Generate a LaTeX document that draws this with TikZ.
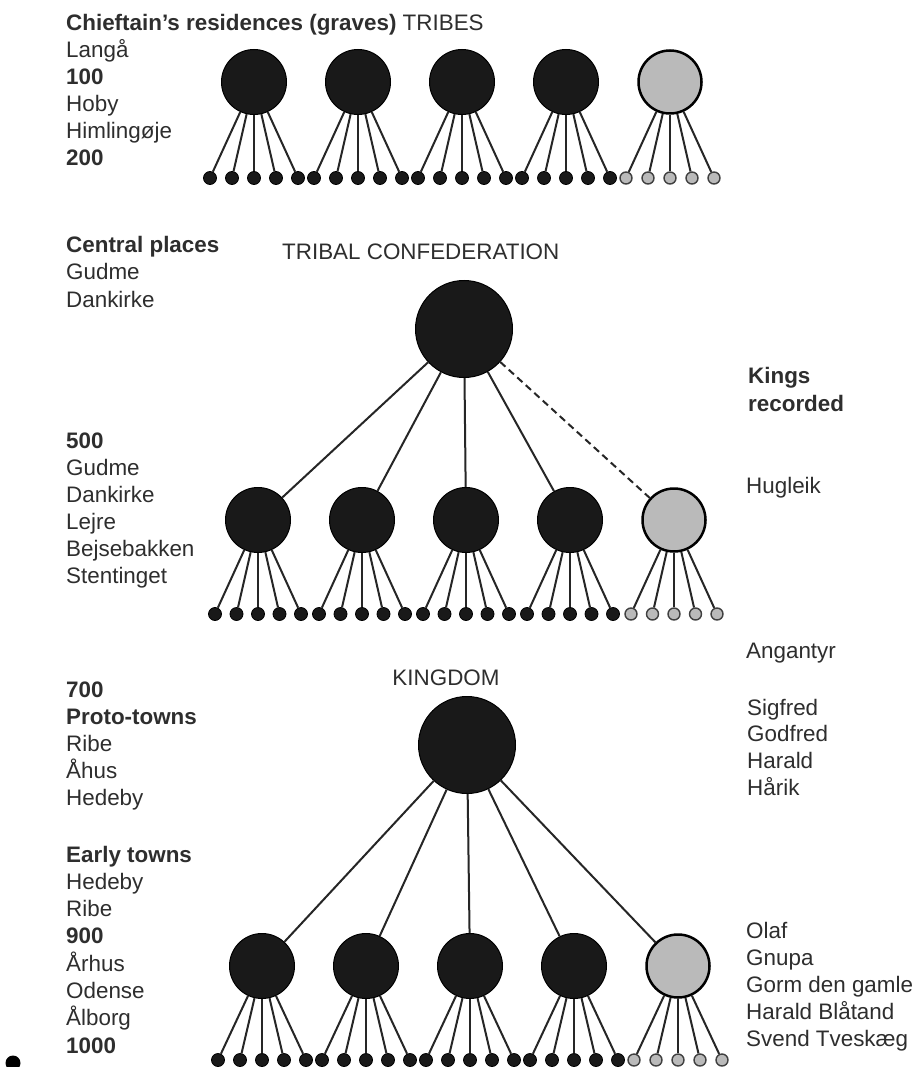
\documentclass[tikz,border=0pt]{standalone}
\usepackage{fontspec}
\setmainfont{Liberation Sans}
\begin{document}
\begin{tikzpicture}[x=1pt,y=-1pt,
  big/.style={circle,draw=black,line width=1pt,fill=black!90,minimum size=97pt,inner sep=0pt},
  mid/.style={circle,draw=black,line width=1pt,fill=black!90,minimum size=65pt,inner sep=0pt},
  midg/.style={circle,draw=black,line width=2.5pt,fill=black!27,minimum size=63pt,inner sep=0pt},
  dotb/.style={circle,draw=black,line width=0.8pt,fill=black!90,minimum size=13pt,inner sep=0pt},
  dotg/.style={circle,draw=black!75,line width=1.4pt,fill=black!27,minimum size=12pt,inner sep=0pt},
  link/.style={line width=2pt,draw=black!85},
  dlink/.style={line width=2pt,draw=black!85,dash pattern=on 7pt off 4.5pt},
  lbl/.style={anchor=base west,inner sep=0pt,text=black!82,font=\fontsize{22.4}{27}\selectfont},
  ttl/.style={anchor=base,inner sep=0pt,text=black!82,font=\fontsize{22.4}{27}\selectfont},
]
\fill[white] (0,0) rectangle (917,1067);
\useasboundingbox (0,0) rectangle (917,1067);

% ---------- TRIBES (top row) ----------
\foreach \i in {1,...,5}{
  \pgfmathsetmacro\cx{254+104*(\i-1)}
  \ifnum\i<5 \node[mid] (t\i) at (\cx,82) {}; \else \node[midg] (t\i) at (\cx,82) {}; \fi
  \foreach \j/\o in {1/-44,2/-22,3/0,4/22,5/44}{
    \ifnum\i<5 \node[dotb] (t\i d\j) at (\cx+\o,178) {}; \else \node[dotg] (t\i d\j) at (\cx+\o,178) {}; \fi
    \draw[link] (t\i) -- (t\i d\j);
  }
}

% ---------- TRIBAL CONFEDERATION ----------
\node[big] (c0) at (464,329) {};
\foreach \i in {1,...,5}{
  \pgfmathsetmacro\cx{258+104*(\i-1)}
  \ifnum\i<5 \node[mid] (c\i) at (\cx,520) {}; \draw[link] (c0) -- (c\i);
  \else \node[midg] (c\i) at (\cx,520) {}; \draw[dlink] (c0) -- (c\i); \fi
  \foreach \j/\o in {1/-43,2/-21.5,3/0,4/21.5,5/43}{
    \ifnum\i<5 \node[dotb] (c\i d\j) at (\cx+\o,614) {}; \else \node[dotg] (c\i d\j) at (\cx+\o,614) {}; \fi
    \draw[link] (c\i) -- (c\i d\j);
  }
}

% ---------- KINGDOM ----------
\node[big] (k0) at (467,745) {};
\foreach \i in {1,...,5}{
  \pgfmathsetmacro\cx{262+104*(\i-1)}
  \ifnum\i<5 \node[mid] (k\i) at (\cx,966) {}; \else \node[midg] (k\i) at (\cx,966) {}; \fi
  \draw[link] (k0) -- (k\i);
  \foreach \j/\o in {1/-44,2/-22,3/0,4/22,5/44}{
    \ifnum\i<5 \node[dotb] (k\i d\j) at (\cx+\o,1060) {}; \else \node[dotg] (k\i d\j) at (\cx+\o,1060) {}; \fi
    \draw[link] (k\i) -- (k\i d\j);
  }
}

% stray dot at bottom left
\node[circle,fill=black,minimum size=15pt,inner sep=0pt] (spot) at (13,1063) {};

% ---------- centred titles ----------
\node[lbl] (tconf) at (282,259) {TRIBAL CONFEDERATION};
\node[ttl] (tking) at (446,685) {KINGDOM};

% ---------- left column ----------
\node[lbl] (h0) at (66,31) {\textbf{Chieftain’s residences (graves)} TRIBES};
\foreach \t [count=\i] in {Langå,\textbf{100},Hoby,Himlingøje,\textbf{200}}
  \node[lbl] (a\i) at (66,31+27*\i) {\t};
\foreach \t [count=\i from 0] in {\textbf{Central places},Gudme,Dankirke}
  \node[lbl] (b\i) at (66,252+27.5*\i) {\t};
\foreach \t [count=\i from 0] in {\textbf{500},Gudme,Dankirke,Lejre,Bejsebakken,Stentinget}
  \node[lbl] (e\i) at (66,448+27*\i) {\t};
\foreach \t [count=\i from 0] in {\textbf{700},\textbf{Proto-towns},Ribe,Åhus,Hedeby}
  \node[lbl] (f\i) at (66,697+27.2*\i) {\t};
\foreach \t [count=\i from 0] in {\textbf{Early towns},Hedeby,Ribe,\textbf{900},Århus,Odense,Ålborg,\textbf{1000}}
  \node[lbl] (g\i) at (66,862+27.3*\i) {\t};

% ---------- right column ----------
\node[lbl] (r1) at (748,383) {\textbf{Kings}};
\node[lbl] (r2) at (748,411) {\textbf{recorded}};
\node[lbl] (r3) at (746,493) {Hugleik};
\node[lbl] (r4) at (746,658) {Angantyr};
\foreach \t [count=\i from 0] in {Sigfred,Godfred,Harald,Hårik}
  \node[lbl] (s\i) at (747,715+26.7*\i) {\t};
\foreach \t [count=\i from 0] in {Olaf,Gnupa,Gorm den gamle,Harald Blåtand,Svend Tveskæg}
  \node[lbl] (o\i) at (746,938+27.2*\i) {\t};
\end{tikzpicture}
\end{document}
